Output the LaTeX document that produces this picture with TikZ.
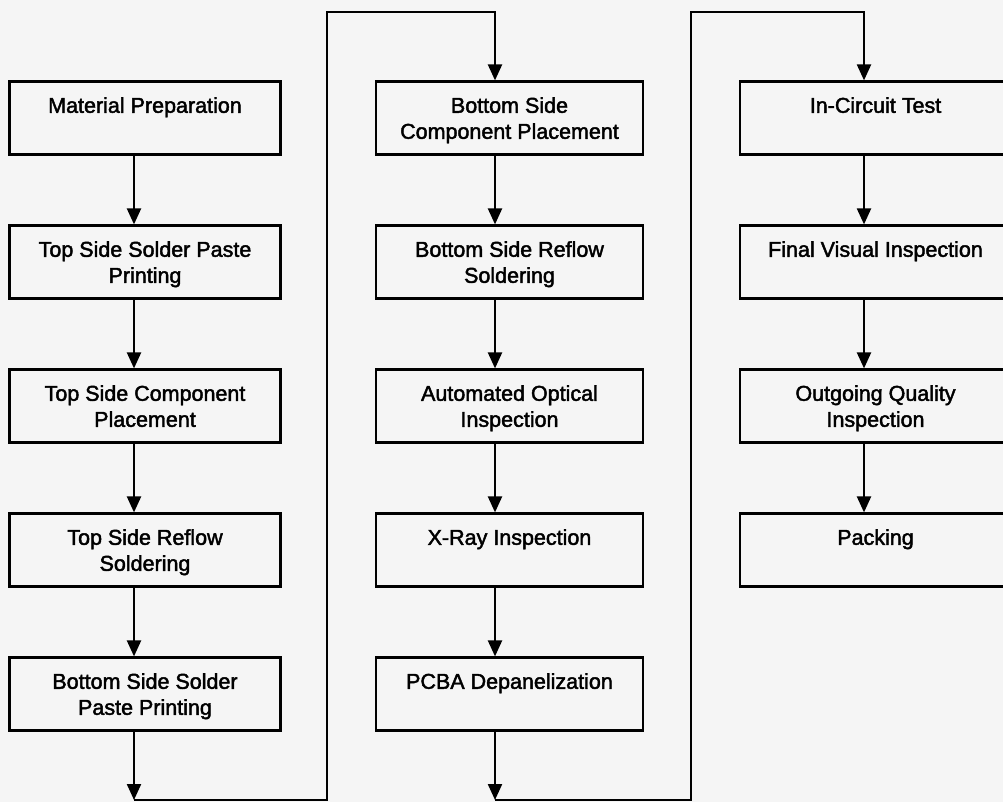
\documentclass[tikz,border=0pt]{standalone}
\usepackage{fontspec}
\setmainfont{Liberation Sans}
\newfontfamily\boxfont{Liberation Sans}[FakeBold=2]
\usetikzlibrary{arrows.meta}
\newcommand\lnstrut{\rule[-5.2pt]{0pt}{26pt}}
\begin{document}
\begin{tikzpicture}[x=1pt,y=-1pt,
  stepbox/.style={draw, line width=2.2pt, rectangle, minimum height=73pt, inner sep=0pt,
    align=center, font=\boxfont\fontsize{21.5}{26}\selectfont},
  colA/.style={stepbox, minimum width=271pt},
  colB/.style={stepbox, minimum width=267pt},
  colC/.style={stepbox, minimum width=271pt},
  arr/.style={line width=2.2pt, -{Triangle[width=14pt,length=16pt]}}]
\clip (0,0) rectangle (1003,802);
\fill[black!4] (0,0) rectangle (1003,802);
% column anchors
\coordinate (a1) at (134,0);
\coordinate (a2) at (495,0);
\coordinate (a3) at (864,0);
% column 1
\node[colA] (b1) at (145,118) {Material Preparation\lnstrut\\\lnstrut};
\node[colA] (b2) at (145,262) {Top Side Solder Paste\lnstrut\\Printing\lnstrut};
\node[colA] (b3) at (145,406) {Top Side Component\lnstrut\\Placement\lnstrut};
\node[colA] (b4) at (145,550) {Top Side Reflow\lnstrut\\Soldering\lnstrut};
\node[colA] (b5) at (145,694) {Bottom Side Solder\lnstrut\\Paste Printing\lnstrut};
% column 2
\node[colB] (b6) at (509.5,118) {Bottom Side\lnstrut\\Component Placement\lnstrut};
\node[colB] (b7) at (509.5,262) {Bottom Side Reflow\lnstrut\\Soldering\lnstrut};
\node[colB] (b8) at (509.5,406) {Automated Optical\lnstrut\\Inspection\lnstrut};
\node[colB] (b9) at (509.5,550) {X-Ray Inspection\lnstrut\\\lnstrut};
\node[colB] (b10) at (509.5,694) {PCBA Depanelization\lnstrut\\\lnstrut};
% column 3
\node[colC] (b11) at (875.5,118) {In-Circuit Test\lnstrut\\\lnstrut};
\node[colC] (b12) at (875.5,262) {Final Visual Inspection\lnstrut\\\lnstrut};
\node[colC] (b13) at (875.5,406) {Outgoing Quality\lnstrut\\Inspection\lnstrut};
\node[colC] (b14) at (875.5,550) {Packing\lnstrut\\\lnstrut};
% arrows within columns
\draw[arr] (b1.south -| a1) -- (b2.north -| a1);
\draw[arr] (b2.south -| a1) -- (b3.north -| a1);
\draw[arr] (b3.south -| a1) -- (b4.north -| a1);
\draw[arr] (b4.south -| a1) -- (b5.north -| a1);
\draw[arr] (b6.south -| a2) -- (b7.north -| a2);
\draw[arr] (b7.south -| a2) -- (b8.north -| a2);
\draw[arr] (b8.south -| a2) -- (b9.north -| a2);
\draw[arr] (b9.south -| a2) -- (b10.north -| a2);
\draw[arr] (b11.south -| a3) -- (b12.north -| a3);
\draw[arr] (b12.south -| a3) -- (b13.north -| a3);
\draw[arr] (b13.south -| a3) -- (b14.north -| a3);
% column transfers
\coordinate (p1) at (134,800);
\coordinate (t1) at (327,12);
\coordinate (p2) at (495,800);
\coordinate (t2) at (691,12);
\draw[arr] (b5.south -| a1) -- (p1);
\draw[arr] (p1) -| (t1) -| (b6.north -| a2);
\draw[arr] (b10.south -| a2) -- (p2);
\draw[arr] (p2) -| (t2) -| (b11.north -| a3);
\end{tikzpicture}
\end{document}
